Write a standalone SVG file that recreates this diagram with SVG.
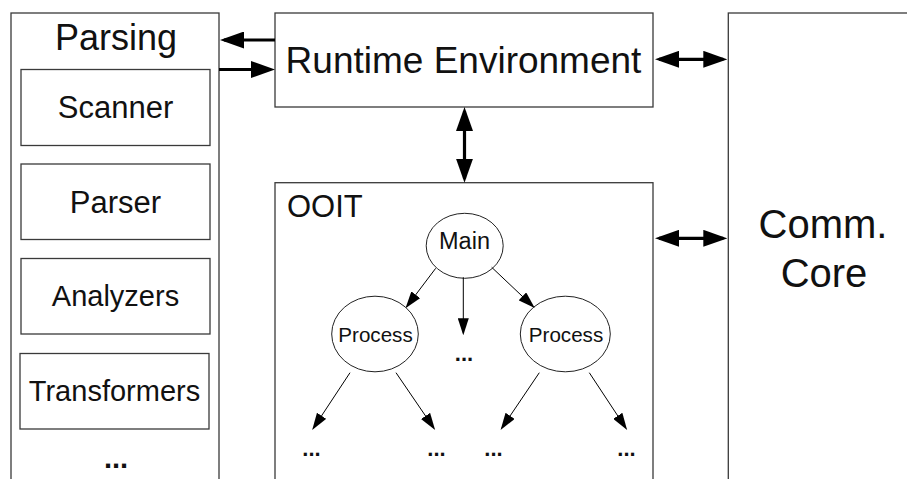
<svg xmlns="http://www.w3.org/2000/svg" width="907" height="479" viewBox="0 0 907 479">
<style>
text{font-family:"Liberation Sans",Arial,sans-serif;fill:#111}
.dots{font-weight:bold;text-anchor:middle}
.box{fill:#fff;stroke:#3a3a3a;stroke-width:1.3}
.ell{fill:#fff;stroke:#222;stroke-width:1}
.thick{stroke:#000;stroke-width:3.2;fill:none}
.thin{stroke:#000;stroke-width:1;fill:none}
</style>
<defs>
<marker id="big" markerUnits="userSpaceOnUse" markerWidth="24" markerHeight="17" refX="20" refY="8.5" orient="auto-start-reverse">
<path d="M0,0 L24,8.5 L0,17 z" fill="#000"/>
</marker>
<marker id="small" markerUnits="userSpaceOnUse" markerWidth="17" markerHeight="11" refX="15" refY="5.5" orient="auto">
<path d="M0,0 L17,5.5 L0,11 z" fill="#000"/>
</marker>
</defs>
<rect width="907" height="479" fill="#fff"/>
<g id="parsing">
<rect class="box" x="11" y="13" width="208" height="500"/>
<text x="116" y="50" font-size="36" text-anchor="middle">Parsing</text>
<text class="dots" x="116" y="468" font-size="29">...</text>
</g>
<g id="scanner">
<rect class="box" x="21" y="69.5" width="189" height="76"/>
<text x="115.5" y="118" font-size="31" text-anchor="middle">Scanner</text>
</g>
<g id="parser">
<rect class="box" x="21" y="164" width="189" height="75.5"/>
<text x="115.5" y="212.5" font-size="31" text-anchor="middle">Parser</text>
</g>
<g id="analyzers">
<rect class="box" x="21" y="258.5" width="189" height="75.5"/>
<text x="115.5" y="306" font-size="29" text-anchor="middle">Analyzers</text>
</g>
<g id="transformers">
<rect class="box" x="20" y="353.5" width="189" height="75.5"/>
<text x="114.5" y="400.5" font-size="29" text-anchor="middle">Transformers</text>
</g>
<g id="runtime">
<rect class="box" x="275" y="13" width="378" height="94"/>
<text x="463.5" y="73" font-size="37" text-anchor="middle">Runtime Environment</text>
</g>
<g id="ooit">
<rect class="box" x="275" y="182.7" width="378" height="400"/>
<text x="287" y="217" font-size="31">OOIT</text>
<text class="dots" x="464" y="361" font-size="22">...</text>
<text class="dots" x="311.5" y="456" font-size="22">...</text>
<text class="dots" x="436.5" y="456" font-size="22">...</text>
<text class="dots" x="493.5" y="456" font-size="22">...</text>
<text class="dots" x="626.5" y="456" font-size="22">...</text>
</g>
<g id="main">
<ellipse class="ell" cx="464.7" cy="245.8" rx="38.5" ry="32.5"/>
<text x="464.5" y="249" font-size="23.5" text-anchor="middle">Main</text>
</g>
<g id="process1">
<ellipse class="ell" cx="375" cy="334" rx="43.3" ry="37.8"/>
<text x="375.5" y="342" font-size="20.6" text-anchor="middle">Process</text>
</g>
<g id="process2">
<ellipse class="ell" cx="565.3" cy="334" rx="45" ry="37.8"/>
<text x="566" y="342" font-size="20.6" text-anchor="middle">Process</text>
</g>
<g id="comm">
<rect class="box" x="728.3" y="13" width="300" height="500"/>
<text x="823" y="238" font-size="40" text-anchor="middle">Comm.</text>
<text x="824" y="287" font-size="40" text-anchor="middle">Core</text>
</g>
<g id="connectors">
<line class="thick" x1="275" y1="40" x2="224" y2="40" marker-end="url(#big)"/>
<line class="thick" x1="219" y1="69.5" x2="271" y2="69.5" marker-end="url(#big)"/>
<line class="thick" x1="659" y1="59.3" x2="723.3" y2="59.3" marker-start="url(#big)" marker-end="url(#big)"/>
<line class="thick" x1="659" y1="238.3" x2="723.3" y2="238.3" marker-start="url(#big)" marker-end="url(#big)"/>
<line class="thick" x1="464.5" y1="111" x2="464.5" y2="178.7" marker-start="url(#big)" marker-end="url(#big)"/>
<line class="thin" x1="435.7" y1="268.3" x2="406.7" y2="306.7" marker-end="url(#small)"/>
<line class="thin" x1="463.3" y1="277.3" x2="463.3" y2="333.3" marker-end="url(#small)"/>
<line class="thin" x1="491.7" y1="267.3" x2="533.3" y2="306.7" marker-end="url(#small)"/>
<line class="thin" x1="350" y1="372.7" x2="313.3" y2="428.3" marker-end="url(#small)"/>
<line class="thin" x1="396" y1="372.7" x2="434" y2="428.3" marker-end="url(#small)"/>
<line class="thin" x1="539.3" y1="372.7" x2="501.7" y2="428.3" marker-end="url(#small)"/>
<line class="thin" x1="589.3" y1="372.7" x2="626" y2="428.3" marker-end="url(#small)"/>
</g>
</svg>
